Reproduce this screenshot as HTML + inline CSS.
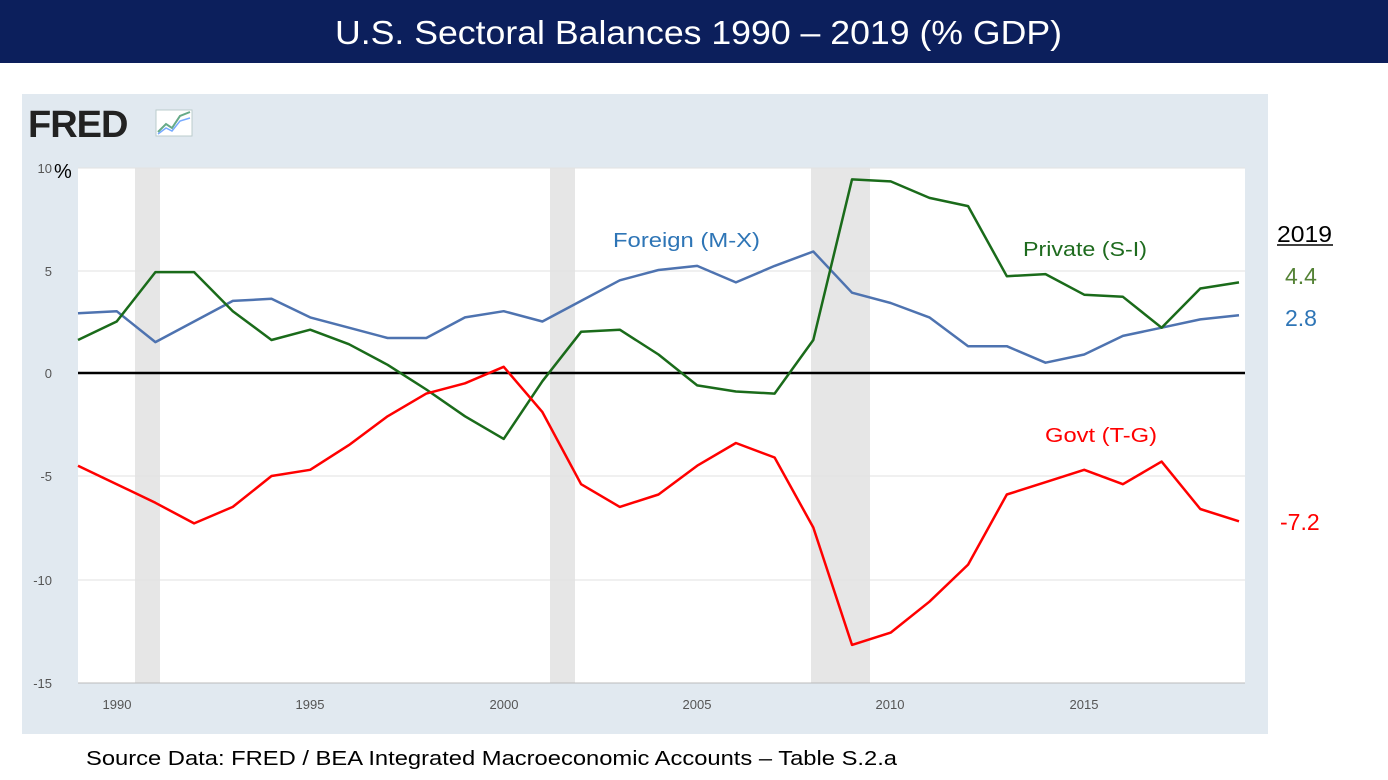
<!DOCTYPE html>
<html><head><meta charset="utf-8"><style>
body{margin:0;width:1388px;height:775px;background:#fff;overflow:hidden;font-family:"Liberation Sans",sans-serif}
</style></head><body>
<svg width="1388" height="775" xmlns="http://www.w3.org/2000/svg" id="s" font-family="Liberation Sans, sans-serif">
<rect x="0" y="0" width="1388" height="63" fill="#0c1f5c"/>
<text x="335" y="44" font-size="33" fill="#fff" textLength="727" lengthAdjust="spacingAndGlyphs">U.S. Sectoral Balances 1990 – 2019 (% GDP)</text>
<rect x="22" y="94" width="1246" height="640" fill="#e1e9f0"/>
<text x="28" y="137" font-size="38" font-weight="bold" fill="#222" letter-spacing="-1">FRED</text>
<rect x="156" y="110" width="36" height="26" fill="#fff" stroke="#bcc" stroke-width="1"/>
<polyline points="158,132 166,124 172,128 180,116 190,112" fill="none" stroke="#6a8" stroke-width="2"/>
<polyline points="158,134 166,128 172,131 180,121 190,118" fill="none" stroke="#7af" stroke-width="1.5"/>
<rect x="78" y="168" width="1167" height="515" fill="#fff"/>
<rect x="135" y="168" width="25" height="515" fill="#e6e6e6"/>
<rect x="550" y="168" width="25" height="515" fill="#e6e6e6"/>
<rect x="811" y="168" width="59" height="515" fill="#e6e6e6"/>
<g stroke="#e2e2e2" stroke-width="1">
<line x1="78" y1="168" x2="1245" y2="168"/><line x1="78" y1="271" x2="1245" y2="271"/>
<line x1="78" y1="476" x2="1245" y2="476"/><line x1="78" y1="580" x2="1245" y2="580"/>
</g>
<line x1="78" y1="683" x2="1245" y2="683" stroke="#bbb"/>
<line x1="78" y1="373" x2="1245" y2="373" stroke="#000" stroke-width="2.5"/>
<g font-size="13" fill="#555" text-anchor="end">
<text x="52" y="173">10</text><text x="52" y="276">5</text><text x="52" y="378">0</text>
<text x="52" y="481">-5</text><text x="52" y="585">-10</text><text x="52" y="688">-15</text>
</g>
<text x="54" y="178" font-size="20" fill="#000">%</text>
<g font-size="13" fill="#555" text-anchor="middle">
<text x="117" y="709">1990</text><text x="310" y="709">1995</text><text x="504" y="709">2000</text>
<text x="697" y="709">2005</text><text x="890" y="709">2010</text><text x="1084" y="709">2015</text>
</g>
<g id="lines"></g>
<text x="613" y="247" font-size="20" fill="#2e75b6" textLength="147" lengthAdjust="spacingAndGlyphs">Foreign (M-X)</text>
<text x="1023" y="256" font-size="20" fill="#1e6b1e" textLength="124" lengthAdjust="spacingAndGlyphs">Private (S-I)</text>
<text x="1045" y="442" font-size="20" fill="#f00" textLength="112" lengthAdjust="spacingAndGlyphs">Govt (T-G)</text>
<text x="1277" y="242" font-size="23" fill="#000" textLength="55" lengthAdjust="spacingAndGlyphs">2019</text>
<line x1="1277" y1="245" x2="1333" y2="245" stroke="#000" stroke-width="1.5"/>
<text x="1285" y="284" font-size="23" fill="#548235">4.4</text>
<text x="1285" y="326" font-size="23" fill="#2e75b6">2.8</text>
<text x="1280" y="530" font-size="23" fill="#f00">-7.2</text>
<text x="86" y="765" font-size="20" fill="#000" textLength="811" lengthAdjust="spacingAndGlyphs">Source Data:  FRED / BEA Integrated Macroeconomic Accounts – Table S.2.a</text>
</svg>
<script>
var F=[2.9,3.0,1.5,2.5,3.5,3.6,2.7,2.2,1.7,1.7,2.7,3.0,2.5,3.5,4.5,5.0,5.2,4.4,5.2,5.9,3.9,3.4,2.7,1.3,1.3,0.5,0.9,1.8,2.2,2.6,2.8];
var P=[1.6,2.5,4.9,4.9,3.0,1.6,2.1,1.4,0.4,-0.8,-2.1,-3.2,-0.4,2.0,2.1,0.9,-0.6,-0.9,-1.0,1.6,9.4,9.3,8.5,8.1,4.7,4.8,3.8,3.7,2.2,4.1,4.4];
var G=[-4.5,-5.4,-6.3,-7.3,-6.5,-5.0,-4.7,-3.5,-2.1,-1.0,-0.5,0.3,-1.9,-5.4,-6.5,-5.9,-4.5,-3.4,-4.1,-7.5,-13.2,-12.6,-11.1,-9.3,-5.9,-5.3,-4.7,-5.4,-4.3,-6.6,-7.2];
function pl(d,c){return '<polyline fill="none" stroke="'+c+'" stroke-width="2.5" stroke-linejoin="round" points="'+d.map(function(v,i){return (78+i*38.7).toFixed(1)+','+(373-v*20.6).toFixed(1)}).join(' ')+'"/>';}
document.getElementById('lines').innerHTML=pl(F,'#4e73b0')+pl(P,'#1a6b1a')+pl(G,'#ff0000');
</script>
</body></html>
